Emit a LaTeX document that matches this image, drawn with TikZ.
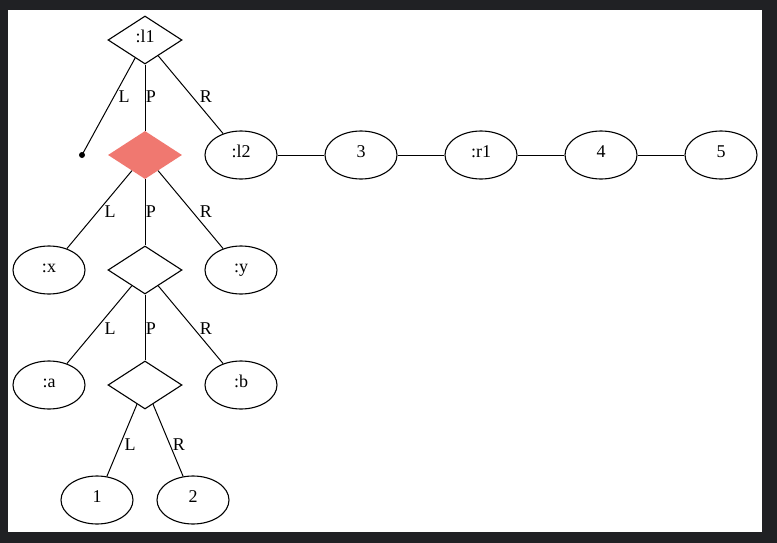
\documentclass[tikz,border=0pt]{standalone}
\usepackage{fontspec}
\setmainfont{Liberation Serif}
\usetikzlibrary{shapes.geometric}
\definecolor{frame}{RGB}{32,33,36}
\definecolor{redfill}{RGB}{240,120,112}
\tikzset{
  every node/.style={font=\fontsize{18}{21}\selectfont},
  ell/.style={ellipse, draw, line width=1.1pt, minimum width=72pt, minimum height=48pt, inner sep=0pt, text height=1.5ex, text depth=0.25ex},
  dia/.style={diamond, draw, line width=1.1pt, minimum width=74pt, minimum height=48pt, inner sep=0pt, text height=1.5ex, text depth=0.25ex},
  reddia/.style={diamond, fill=redfill, minimum width=74pt, minimum height=48pt, inner sep=0pt},
  dotnode/.style={circle, fill=black, minimum size=6pt, inner sep=0pt},
  lab/.style={inner sep=0pt},
  edge/.style={line width=1pt}
}
\begin{document}
\begin{tikzpicture}[x=1pt,y=-1pt]
\useasboundingbox (0,0) rectangle (777,543);
\fill[frame] (0,0) rectangle (777,543);
\fill[white] (8,10) rectangle (762,532);
% nodes
\node[dia] (l1) at (145,40) {:l1};
\node[dotnode] (dot) at (82,155) {};
\node[reddia] (r) at (145,155) {};
\node[ell] (l2) at (241,155) {:l2};
\node[ell] (n3) at (361,155) {3};
\node[ell] (r1) at (481,155) {:r1};
\node[ell] (n4) at (601,155) {4};
\node[ell] (n5) at (721,155) {5};
\node[ell] (x) at (49,270) {:x};
\node[dia] (d2) at (145,270) {};
\node[ell] (y) at (241,270) {:y};
\node[ell] (a) at (49,385) {:a};
\node[dia] (d3) at (145,385) {};
\node[ell] (b) at (241,385) {:b};
\node[ell] (n1) at (97,500) {1};
\node[ell] (n2) at (193,500) {2};
% edges
\draw[edge] (l1) -- (dot.center);
\draw[edge] (l1) -- (r);
\draw[edge] (l1) -- (l2);
\draw[edge] (l2) -- (n3);
\draw[edge] (n3) -- (r1);
\draw[edge] (r1) -- (n4);
\draw[edge] (n4) -- (n5);
\draw[edge] (r) -- (x);
\draw[edge] (r) -- (d2);
\draw[edge] (r) -- (y);
\draw[edge] (d2) -- (a);
\draw[edge] (d2) -- (d3);
\draw[edge] (d2) -- (b);
\draw[edge] (d3) -- (n1);
\draw[edge] (d3) -- (n2);
% labels
\node[lab] (la1) at (124,97) {L};
\node[lab] (lp1) at (151,97) {P};
\node[lab] (lr1) at (206,97) {R};
\node[lab] (la2) at (110,212) {L};
\node[lab] (lp2) at (151,212) {P};
\node[lab] (lr2) at (206,212) {R};
\node[lab] (la3) at (110,329) {L};
\node[lab] (lp3) at (151,329) {P};
\node[lab] (lr3) at (206,329) {R};
\node[lab] (la4) at (130,445) {L};
\node[lab] (lr4) at (179,445) {R};
\end{tikzpicture}
\end{document}
